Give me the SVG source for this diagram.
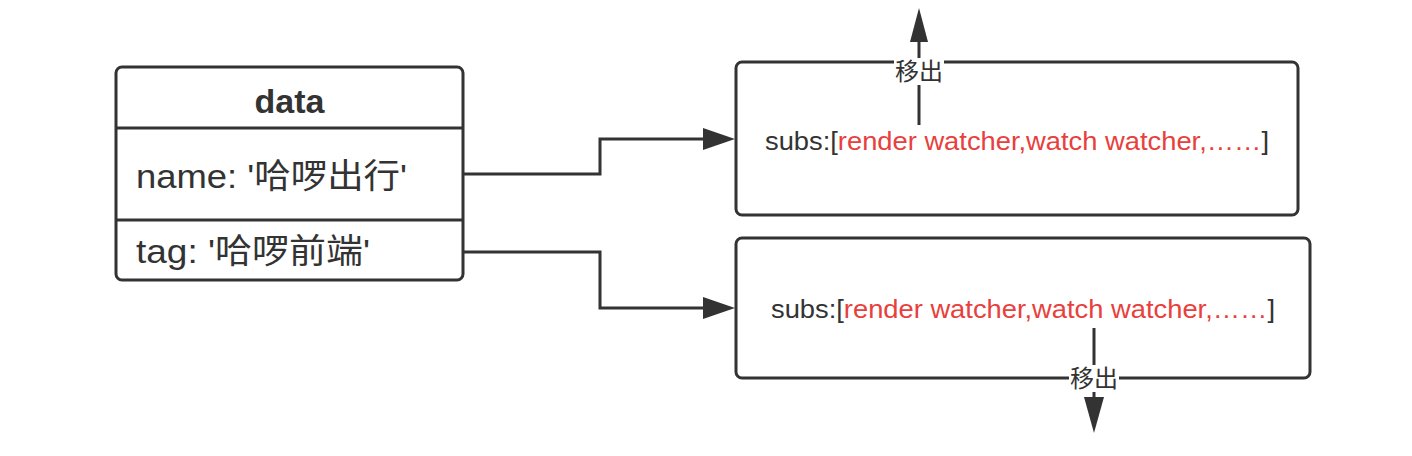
<svg xmlns="http://www.w3.org/2000/svg" width="1412" height="456" viewBox="0 0 1412 456">
<style>
.box{fill:#fff;stroke:#333;stroke-width:3}
.ln{fill:none;stroke:#333;stroke-width:3}
.ah{fill:#333;stroke:none}
.t{font-family:"Liberation Sans","Noto Sans CJK SC",sans-serif;fill:#333}
.red{fill:#e8403c}
.lbl{fill:#fff;stroke:none}
</style>
<rect width="1412" height="456" fill="#fff"/>
<g id="data">
<rect class="box" x="116" y="67" width="347" height="213" rx="6"/>
<line class="ln" x1="116" y1="128" x2="463" y2="128"/>
<line class="ln" x1="116" y1="220" x2="463" y2="220"/>
<text class="t" x="289.5" y="113" font-size="34" font-weight="bold" text-anchor="middle">data</text>
<text class="t" x="136" y="188" font-size="34" textLength="271" lengthAdjust="spacingAndGlyphs">name: '哈啰出行'</text>
<text class="t" x="136" y="263" font-size="34" textLength="234" lengthAdjust="spacingAndGlyphs">tag: '哈啰前端'</text>
</g>
<g id="subs1">
<rect class="box" x="736" y="62" width="562" height="153" rx="6"/>
<text class="t" x="765" y="150" font-size="26" textLength="504" lengthAdjust="spacingAndGlyphs">subs:[<tspan class="red">render watcher,watch watcher,……</tspan>]</text>
</g>
<g id="subs2">
<rect class="box" x="736" y="238" width="574" height="140" rx="6"/>
<text class="t" x="771" y="318" font-size="26" textLength="504" lengthAdjust="spacingAndGlyphs">subs:[<tspan class="red">render watcher,watch watcher,……</tspan>]</text>
</g>
<g id="connectors">
<path class="ln" d="M463 174 H600 V139 H705"/>
<polygon class="ah" points="703,128 735,139 703,150"/>
<path class="ln" d="M463 252 H600 V308 H705"/>
<polygon class="ah" points="703,297 735,308 703,319"/>
<line class="ln" x1="919" y1="125" x2="919" y2="38"/>
<polygon class="ah" points="910,42 919,8 928,42"/>
<rect class="lbl" x="894" y="58" width="50" height="27"/>
<text class="t" x="919" y="80" font-size="24" text-anchor="middle">移出</text>
<line class="ln" x1="1094" y1="328" x2="1094" y2="400"/>
<polygon class="ah" points="1084,397 1094,433 1104,397"/>
<rect class="lbl" x="1069" y="365" width="50" height="27"/>
<text class="t" x="1094" y="387" font-size="24" text-anchor="middle">移出</text>
</g>
</svg>
